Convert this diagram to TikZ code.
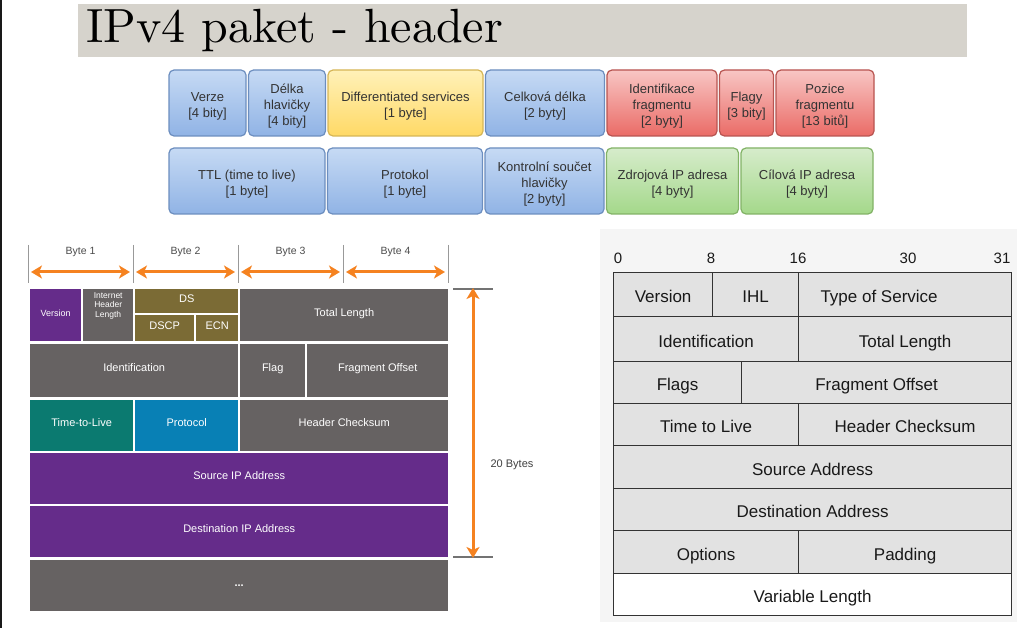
\documentclass[tikz,border=0pt]{standalone}
\usepackage{fontspec}
\newfontfamily\arialfont{Liberation Sans}
\newfontfamily\titlefont{lmroman10-regular.otf}
\usetikzlibrary{positioning,arrows.meta,calc}

\definecolor{titlebg}{HTML}{D6D3CC}
\definecolor{blueTop}{HTML}{C6DAF4}
\definecolor{blueBot}{HTML}{90B3E5}
\definecolor{blueLine}{HTML}{6C8EBF}
\definecolor{yellowTop}{HTML}{FFF1B8}
\definecolor{yellowBot}{HTML}{FFD966}
\definecolor{yellowLine}{HTML}{D6B656}
\definecolor{redTop}{HTML}{F8C6C4}
\definecolor{redBot}{HTML}{EA6B66}
\definecolor{redLine}{HTML}{B85450}
\definecolor{greenTop}{HTML}{D6ECCB}
\definecolor{greenBot}{HTML}{A4D88A}
\definecolor{greenLine}{HTML}{82B366}
\definecolor{cpurple}{HTML}{652C8A}
\definecolor{cgray}{HTML}{666262}
\definecolor{colive}{HTML}{7B6B35}
\definecolor{cteal}{HTML}{0B7A70}
\definecolor{cblue}{HTML}{0880B5}
\definecolor{corange}{HTML}{F58220}
\definecolor{rfill}{HTML}{E2E2E2}
\definecolor{rpanel}{HTML}{F5F5F5}
\definecolor{rline}{HTML}{333333}

\tikzset{topbox/.style={rectangle, rounded corners=5pt, draw, line width=1.2pt, inner sep=0pt, outer sep=0pt, minimum height=66pt, align=center, text=black!80, text height=33pt, text depth=3pt, font=\arialfont\fontsize{13}{16}\selectfont}}
\tikzset{threelines/.style={text height=49pt}}
\tikzset{bluebox/.style={topbox, draw=blueLine, top color=blueTop, bottom color=blueBot}}
\tikzset{yellowbox/.style={topbox, draw=yellowLine, top color=yellowTop, bottom color=yellowBot}}
\tikzset{redbox/.style={topbox, draw=redLine, top color=redTop, bottom color=redBot}}
\tikzset{greenbox/.style={topbox, draw=greenLine, top color=greenTop, bottom color=greenBot}}
\tikzset{cisco/.style={rectangle, inner sep=0pt, anchor=north west, text=white, align=center, text height=6pt, text depth=4.2pt, font=\arialfont\fontsize{11}{13}\selectfont}}
\tikzset{field/.style={rectangle, draw=rline, line width=1.2pt, fill=rfill, inner sep=0pt, anchor=north west, text=black!90, text height=17pt, text depth=1pt, font=\arialfont\fontsize{17}{20}\selectfont}}
\tikzset{sizearrow/.style={draw=corange, line width=3pt, {Stealth[length=11pt,width=13pt,inset=3pt]}-{Stealth[length=11pt,width=13pt,inset=3pt]}}}
\tikzset{tick/.style={draw=black!40, line width=1pt}}

\begin{document}
\begin{tikzpicture}[x=1pt, y=-1pt]
	\useasboundingbox (0,0) rectangle (1034,628);
	\fill[white] (0,0) rectangle (1034,628);
	\fill[black!90] (0,0) rectangle (2,628);

	\node (title) [anchor=north west, fill=titlebg, minimum height=53pt, text width=873pt, inner xsep=8pt, inner ysep=0pt, align=left, font=\titlefont\fontsize{48}{50}\selectfont] at (78,4) {IPv4 paket - header};

	% fields in czech
	\node (verze) [bluebox, minimum width=77pt] at (207.5,103) {Verze\\{}[4 bity]};
	\node (delka) [bluebox, threelines, minimum width=77pt, right=2.5pt of verze] {Délka\\hlavičky\\{}[4 bity]};
	\node (diff) [yellowbox, minimum width=155pt, right=2.5pt of delka] {Differentiated services\\{}[1 byte]};
	\node (celk) [bluebox, minimum width=119pt, right=2.5pt of diff] {Celková délka\\{}[2 byty]};
	\node (ident) [redbox, threelines, minimum width=110pt, right=2.5pt of celk] {Identifikace\\fragmentu\\{}[2 byty]};
	\node (flagy) [redbox, minimum width=54pt, right=2.5pt of ident] {Flagy\\{}[3 bity]};
	\node (pozice) [redbox, threelines, minimum width=98pt, right=2.5pt of flagy] {Pozice\\fragmentu\\{}[13 bitů]};

	\node (ttl) [bluebox, minimum width=156pt] at (247,181) {TTL (time to live)\\{}[1 byte]};
	\node (prot) [bluebox, minimum width=155pt, right=2.5pt of ttl] {Protokol\\{}[1 byte]};
	\node (kontr) [bluebox, threelines, minimum width=119pt, right=2.5pt of prot] {Kontrolní součet\\hlavičky\\{}[2 byty]};
	\node (zdroj) [greenbox, minimum width=132pt, right=2.5pt of kontr] {Zdrojová IP adresa\\{}[4 byty]};
	\node (cil) [greenbox, minimum width=132pt, right=2.5pt of zdroj] {Cílová IP adresa\\{}[4 byty]};

	% byte scale
	\foreach \x [count=\i from 0] in {28,133,238,343,448} {
		\draw[tick] (\x,245) -- (\x,283);
		\coordinate (t\i) at (\x,272);
	}
	\foreach \i [evaluate=\i as \j using int(\i-1)] in {1,...,4} {
		\node (byte\i) [text=black!70, font=\arialfont\fontsize{10.5}{12}\selectfont] at ($(t\j)!0.5!(t\i)+(0,-20)$) {Byte \i};
		\draw[sizearrow] ([xshift=3pt]t\j) -- ([xshift=-3pt]t\i);
	}

	% cisco header
	\node (cver) [cisco, fill=cpurple, minimum width=51pt, minimum height=52pt, font=\arialfont\fontsize{9}{10}\selectfont] at (30,289) {Version};
	\node (cihl) [cisco, fill=cgray, minimum width=50pt, minimum height=52pt, text height=4pt, text depth=0pt, font=\arialfont\fontsize{8.5}{9.5}\selectfont] at (83,289) {Internet\\Header\\Length};
	\node (cds) [cisco, fill=colive, minimum width=103pt, minimum height=24pt] at (135,289) {DS};
	\node (cdscp) [cisco, fill=colive, minimum width=59pt, minimum height=26pt] at (135,315) {DSCP};
	\node (cecn) [cisco, fill=colive, minimum width=42pt, minimum height=26pt] at (196,315) {ECN};
	\node (ctotal) [cisco, fill=cgray, minimum width=208pt, minimum height=52pt] at (240,289) {Total Length};
	\node (cident) [cisco, fill=cgray, minimum width=208pt, minimum height=53pt] at (30,344) {Identification};
	\node (cflag) [cisco, fill=cgray, minimum width=65pt, minimum height=53pt] at (240,344) {Flag};
	\node (cfrag) [cisco, fill=cgray, minimum width=141pt, minimum height=53pt] at (307,344) {Fragment Offset};
	\node (cttl) [cisco, fill=cteal, minimum width=103pt, minimum height=51pt] at (30,400) {Time-to-Live};
	\node (cprot) [cisco, fill=cblue, minimum width=103pt, minimum height=51pt] at (135,400) {Protocol};
	\node (ccheck) [cisco, fill=cgray, minimum width=208pt, minimum height=51pt] at (240,400) {Header Checksum};
	\node (csrc) [cisco, fill=cpurple, minimum width=418pt, minimum height=51pt] at (30,453) {Source IP Address};
	\node (cdst) [cisco, fill=cpurple, minimum width=418pt, minimum height=51pt] at (30,506) {Destination IP Address};
	\node (cmore) [cisco, fill=cgray, minimum width=418pt, minimum height=51pt] at (30,560) {\textbf{...}};

	\coordinate (brtop) at (473,289);
	\coordinate (brbot) at (473,557);
	\draw[draw=black!55, line width=1.2pt] ([xshift=-20pt]brtop) -- ([xshift=20pt]brtop);
	\draw[draw=black!55, line width=1.2pt] ([xshift=-20pt]brbot) -- ([xshift=20pt]brbot);
	\draw[sizearrow] ([yshift=1pt]brtop) -- ([yshift=-1pt]brbot);
	\node (bytes20) [text=black!75, font=\arialfont\fontsize{11}{13}\selectfont] at (512,465) {20 Bytes};

	% rfc header
	\fill[rpanel] (600,229) rectangle (1017,622);
	\foreach \x/\n in {618/0,711/8,798/16,908/30,1002/31}
		\node (bit\n) [text=black!90, font=\arialfont\fontsize{15}{17}\selectfont] at (\x,258) {\n};

	\node (rver) [field, minimum width=99pt, minimum height=44pt] at (613,272) {Version};
	\node (rihl) [field, minimum width=86pt, minimum height=44pt] at (712,272) {IHL};
	\node (rtos) [field, minimum width=213pt, minimum height=44pt] at (798,272) {\hspace*{-52pt}Type of Service};
	\node (rident) [field, minimum width=185pt, minimum height=45pt] at (613,316) {Identification};
	\node (rtotal) [field, minimum width=213pt, minimum height=45pt] at (798,316) {Total Length};
	\node (rflags) [field, minimum width=128pt, minimum height=42pt] at (613,361) {Flags};
	\node (rfrag) [field, minimum width=270pt, minimum height=42pt] at (741,361) {Fragment Offset};
	\node (rttl) [field, minimum width=185pt, minimum height=42pt] at (613,403) {Time to Live};
	\node (rcheck) [field, minimum width=213pt, minimum height=42pt] at (798,403) {Header Checksum};
	\node (rsrc) [field, minimum width=398pt, minimum height=43pt] at (613,445) {Source Address};
	\node (rdst) [field, minimum width=398pt, minimum height=42pt] at (613,488) {Destination Address};
	\node (ropt) [field, minimum width=185pt, minimum height=43pt] at (613,530) {Options};
	\node (rpad) [field, minimum width=213pt, minimum height=43pt] at (798,530) {Padding};
	\node (rvar) [field, fill=white, minimum width=398pt, minimum height=42pt] at (613,573) {Variable Length};

\end{tikzpicture}
\end{document}
